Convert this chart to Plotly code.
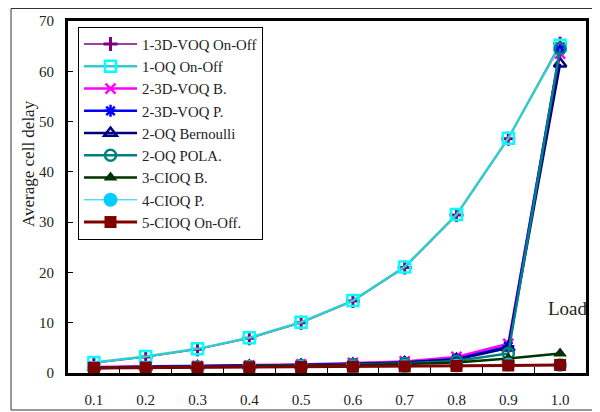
import plotly.graph_objects as go

loads = ["0.1", "0.2", "0.3", "0.4", "0.5", "0.6", "0.7", "0.8", "0.9", "1.0"]

voq3d_onoff = [2.0, 3.2, 4.7, 6.9, 10.0, 14.3, 21.0, 31.4, 46.6, 65.5]
oq_onoff = [2.1, 3.3, 4.8, 7.0, 10.1, 14.4, 21.1, 31.5, 46.7, 65.2]
voq3d_b = [1.2, 1.3, 1.4, 1.5, 1.7, 2.0, 2.3, 3.2, 5.8, 63.5]
voq3d_p = [1.1, 1.2, 1.3, 1.4, 1.6, 1.8, 2.1, 2.8, 5.3, 64.3]
oq_bern = [1.1, 1.2, 1.3, 1.4, 1.6, 1.8, 2.1, 2.7, 5.0, 61.5]
oq_pola = [1.0, 1.1, 1.2, 1.3, 1.5, 1.7, 1.9, 2.4, 3.9, 64.5]
cioq_b = [1.0, 1.1, 1.2, 1.3, 1.4, 1.6, 1.8, 2.1, 2.9, 3.9]
cioq_p = [1.0, 1.05, 1.1, 1.15, 1.2, 1.3, 1.4, 1.5, 1.7, 1.6]
cioq_onoff = [1.0, 1.05, 1.1, 1.15, 1.2, 1.25, 1.3, 1.4, 1.5, 1.6]

names = ["1-3D-VOQ On-Off", "1-OQ On-Off", "2-3D-VOQ B.", "2-3D-VOQ P.",
         "2-OQ Bernoulli", "2-OQ POLA.", "3-CIOQ B.", "4-CIOQ P.", "5-CIOQ On-Off."]
series = [voq3d_onoff, oq_onoff, voq3d_b, voq3d_p, oq_bern, oq_pola, cioq_b, cioq_p, cioq_onoff]

styles = [
    dict(lc="#800080", lw=1.5, sym="cross-thin", mc="#800080", ms=10, mlw=3),
    dict(lc="#33CCCC", lw=2.5, sym="square-open", mc="#00FFFF", ms=11, mlw=2.5),
    dict(lc="#FF00FF", lw=2.5, sym="x-thin", mc="#FF00FF", ms=10, mlw=2.5),
    dict(lc="#0000FF", lw=2.5, sym="asterisk", mc="#0000FF", ms=10, mlw=2.5),
    dict(lc="#000080", lw=2.5, sym="triangle-up-open", mc="#000080", ms=11, mlw=2.5),
    dict(lc="#008080", lw=2.5, sym="circle-open", mc="#008080", ms=11, mlw=2.5),
    dict(lc="#003300", lw=2.5, sym="triangle-up", mc="#003300", ms=12, mlw=0),
    dict(lc="#00CCFF", lw=1, sym="circle", mc="#00CCFF", ms=14, mlw=0),
    dict(lc="#800000", lw=3, sym="square", mc="#800000", ms=12, mlw=0),
]

SERIF = "Liberation Serif, Times New Roman, DejaVu Serif, serif"

fig = go.Figure()
for name, vals, st in zip(names, series, styles):
    marker = dict(symbol=st["sym"], size=st["ms"], color=st["mc"])
    if st["mlw"]:
        marker["line"] = dict(width=st["mlw"], color=st["mc"])
    fig.add_trace(go.Scatter(
        x=loads, y=vals, name=name, mode="lines+markers",
        line=dict(color=st["lc"], width=st["lw"]),
        marker=marker,
    ))

# the page body has an 8px margin, so the figure sits at (8, 8) in the window
OFF = 8
W, H = 600 - OFF, 412 - OFF
L, R, T, B = 68 - OFF, 586 - OFF, 21 - OFF, 373 - OFF
pw, ph = R - L, B - T

def px(x):
    return (x - OFF - L) / pw

def py(y):
    return (B - (y - OFF)) / ph

fig.update_layout(
    width=W, height=H,
    margin=dict(l=L, r=W - R, t=T, b=H - B, autoexpand=False),
    paper_bgcolor="white", plot_bgcolor="white",
    font=dict(family=SERIF, size=15, color="#222"),
    showlegend=True,
    legend=dict(
        x=px(78), y=py(27), xanchor="left", yanchor="top",
        bgcolor="white", bordercolor="black", borderwidth=1,
        font=dict(family=SERIF, size=14.8, color="#222"),
        itemwidth=53, tracegroupgap=0,
    ),
    xaxis=dict(
        type="category", range=[-0.5, 9.5], automargin=False,
        showline=True, linecolor="black", linewidth=3, mirror=True,
        ticks="inside", ticklen=6, tickwidth=1, tickcolor="black",
        tickson="boundaries", showgrid=False, zeroline=False,
        ticklabelstandoff=11,
        tickfont=dict(family=SERIF, size=15, color="#222"),
    ),
    yaxis=dict(
        range=[0, 70], dtick=10, automargin=False,
        showline=True, linecolor="black", linewidth=3, mirror=True,
        ticks="inside", ticklen=5, tickwidth=1, tickcolor="black",
        showgrid=False, zeroline=False,
        ticklabelstandoff=8,
        tickfont=dict(family=SERIF, size=15, color="#222"),
    ),
    shapes=[dict(
        type="rect", xref="paper", yref="paper",
        x0=px(11), x1=px(594), y0=py(410), y1=py(8.5),
        line=dict(color="#333", width=1), layer="below",
    )],
    annotations=[
        dict(text="Average cell delay", xref="paper", yref="paper",
             x=px(28), y=py(164), textangle=-90, showarrow=False,
             xanchor="center", yanchor="middle",
             font=dict(family=SERIF, size=17, color="#222")),
        dict(text="Load", xref="paper", yref="paper",
             x=px(568), y=py(308), showarrow=False,
             xanchor="center", yanchor="middle",
             font=dict(family=SERIF, size=19, color="#222")),
    ],
)

fig.write_html("out.html")
